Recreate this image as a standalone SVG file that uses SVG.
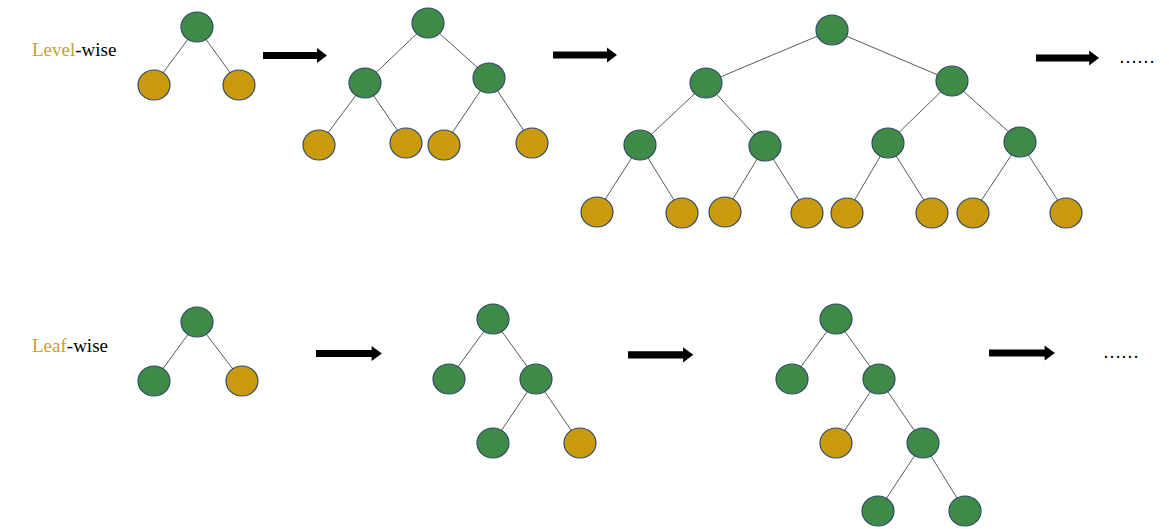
<svg xmlns="http://www.w3.org/2000/svg" xmlns:xlink="http://www.w3.org/1999/xlink" width="1169" height="529" viewBox="0 0 1169 529">
<style>
.g{fill:#3F8A46;stroke:#2E4A6B;stroke-width:1.2}
.y{fill:#C99A0C;stroke:#2E4A6B;stroke-width:1.2}
.e line{stroke:#5A5A5A;stroke-width:1}
.t{font-family:"Liberation Serif","Times New Roman",serif;font-size:19px;fill:#000}
.gold{fill:#C9A02A}
.dots{font-family:"Liberation Serif","Times New Roman",serif;font-size:18px;fill:#000}
</style>
<defs>
<path id="arr" d="M0,-3.6 H54 V-7.6 H64 L64,0 L64,0 L54,7.6 V3.6 H0 Z" fill="#000"/>
<path id="arrow" d="M0,-3.6 H54 V-7.6 L64,0 L54,7.6 V3.6 H0 Z" fill="#000"/>
</defs>
<rect width="1169" height="529" fill="#fff"/>
<g id="labels">
<text class="t" x="32" y="56"><tspan class="gold">Level</tspan>-wise</text>
<text class="t" x="32" y="352"><tspan class="gold">Leaf</tspan>-wise</text>
<text class="dots" x="1119" y="63">……</text>
<text class="dots" x="1103" y="358">……</text>
</g>
<g id="connectors" class="e">
<!-- level tree 1 -->
<line x1="197" y1="27" x2="154" y2="85"/><line x1="197" y1="27" x2="239" y2="85"/>
<!-- level tree 2 -->
<line x1="428" y1="23" x2="365" y2="83"/><line x1="428" y1="23" x2="489" y2="78"/>
<line x1="365" y1="83" x2="319" y2="145"/><line x1="365" y1="83" x2="406" y2="143"/>
<line x1="489" y1="78" x2="444" y2="145"/><line x1="489" y1="78" x2="532" y2="143"/>
<!-- level tree 3 -->
<line x1="832" y1="30" x2="706" y2="83"/><line x1="832" y1="30" x2="952" y2="81"/>
<line x1="706" y1="83" x2="640" y2="145"/><line x1="706" y1="83" x2="765" y2="146"/>
<line x1="952" y1="81" x2="888" y2="143"/><line x1="952" y1="81" x2="1020" y2="142"/>
<line x1="640" y1="145" x2="597" y2="212"/><line x1="640" y1="145" x2="682" y2="213"/>
<line x1="765" y1="146" x2="725" y2="212"/><line x1="765" y1="146" x2="807" y2="213"/>
<line x1="888" y1="143" x2="847" y2="213"/><line x1="888" y1="143" x2="932" y2="213"/>
<line x1="1020" y1="142" x2="973" y2="213"/><line x1="1020" y1="142" x2="1066" y2="213"/>
<!-- leaf tree 1 -->
<line x1="197" y1="322" x2="154" y2="381"/><line x1="197" y1="322" x2="242" y2="381"/>
<!-- leaf tree 2 -->
<line x1="493" y1="319" x2="449" y2="379"/><line x1="493" y1="319" x2="536" y2="379"/>
<line x1="536" y1="379" x2="493" y2="443"/><line x1="536" y1="379" x2="580" y2="443"/>
<!-- leaf tree 3 -->
<line x1="836" y1="319" x2="792" y2="379"/><line x1="836" y1="319" x2="879" y2="379"/>
<line x1="879" y1="379" x2="836" y2="443"/><line x1="879" y1="379" x2="923" y2="443"/>
<line x1="923" y1="443" x2="878" y2="511"/><line x1="923" y1="443" x2="965" y2="511"/>
<!-- arrows -->
<use xlink:href="#arrow" href="#arrow" transform="translate(263,55.5)"/>
<use xlink:href="#arrow" href="#arrow" transform="translate(553,55)"/>
<use xlink:href="#arrow" href="#arrow" transform="translate(1036,58) scale(0.985,1)"/>
<use xlink:href="#arrow" href="#arrow" transform="translate(316,353.5) scale(1.03,1)"/>
<use xlink:href="#arrow" href="#arrow" transform="translate(628,354.8) scale(1.02,1)"/>
<use xlink:href="#arrow" href="#arrow" transform="translate(989,353) scale(1.03,1)"/>
</g>
<g id="level-tree-1">
<ellipse id="n1" class="g" cx="197" cy="27" rx="16" ry="15"/>
<ellipse id="n2" class="y" cx="154" cy="85" rx="16" ry="15"/>
<ellipse id="n3" class="y" cx="239" cy="85" rx="16" ry="15"/>
</g>
<g id="level-tree-2">
<ellipse id="n4" class="g" cx="428" cy="23" rx="16" ry="15"/>
<ellipse id="n5" class="g" cx="365" cy="83" rx="16" ry="15"/>
<ellipse id="n6" class="g" cx="489" cy="78" rx="16" ry="15"/>
<ellipse id="n7" class="y" cx="319" cy="145" rx="16" ry="15"/>
<ellipse id="n8" class="y" cx="406" cy="143" rx="16" ry="15"/>
<ellipse id="n9" class="y" cx="444" cy="145" rx="16" ry="15"/>
<ellipse id="n10" class="y" cx="532" cy="143" rx="16" ry="15"/>
</g>
<g id="level-tree-3">
<ellipse id="n11" class="g" cx="832" cy="30" rx="16" ry="15"/>
<ellipse id="n12" class="g" cx="706" cy="83" rx="16" ry="15"/>
<ellipse id="n13" class="g" cx="952" cy="81" rx="16" ry="15"/>
<ellipse id="n14" class="g" cx="640" cy="145" rx="16" ry="15"/>
<ellipse id="n15" class="g" cx="765" cy="146" rx="16" ry="15"/>
<ellipse id="n16" class="g" cx="888" cy="143" rx="16" ry="15"/>
<ellipse id="n17" class="g" cx="1020" cy="142" rx="16" ry="15"/>
<ellipse id="n18" class="y" cx="597" cy="212" rx="16" ry="15"/>
<ellipse id="n19" class="y" cx="682" cy="213" rx="16" ry="15"/>
<ellipse id="n20" class="y" cx="725" cy="212" rx="16" ry="15"/>
<ellipse id="n21" class="y" cx="807" cy="213" rx="16" ry="15"/>
<ellipse id="n22" class="y" cx="847" cy="213" rx="16" ry="15"/>
<ellipse id="n23" class="y" cx="932" cy="213" rx="16" ry="15"/>
<ellipse id="n24" class="y" cx="973" cy="213" rx="16" ry="15"/>
<ellipse id="n25" class="y" cx="1066" cy="213" rx="16" ry="15"/>
</g>
<g id="leaf-tree-1">
<ellipse id="m1" class="g" cx="197" cy="322" rx="16" ry="15"/>
<ellipse id="m2" class="g" cx="154" cy="381" rx="16" ry="15"/>
<ellipse id="m3" class="y" cx="242" cy="381" rx="16" ry="15"/>
</g>
<g id="leaf-tree-2">
<ellipse id="m4" class="g" cx="493" cy="319" rx="16" ry="15"/>
<ellipse id="m5" class="g" cx="449" cy="379" rx="16" ry="15"/>
<ellipse id="m6" class="g" cx="536" cy="379" rx="16" ry="15"/>
<ellipse id="m7" class="g" cx="493" cy="443" rx="16" ry="15"/>
<ellipse id="m8" class="y" cx="580" cy="443" rx="16" ry="15"/>
</g>
<g id="leaf-tree-3">
<ellipse id="m9" class="g" cx="836" cy="319" rx="16" ry="15"/>
<ellipse id="m10" class="g" cx="792" cy="379" rx="16" ry="15"/>
<ellipse id="m11" class="g" cx="879" cy="379" rx="16" ry="15"/>
<ellipse id="m12" class="y" cx="836" cy="443" rx="16" ry="15"/>
<ellipse id="m13" class="g" cx="923" cy="443" rx="16" ry="15"/>
<ellipse id="m14" class="g" cx="878" cy="511" rx="16" ry="15"/>
<ellipse id="m15" class="g" cx="965" cy="511" rx="16" ry="15"/>
</g>
</svg>
